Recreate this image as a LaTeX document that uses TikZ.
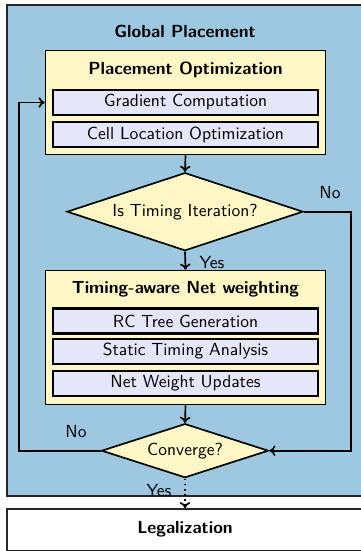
\documentclass[tikz,border=0pt]{standalone}
\usetikzlibrary{shapes.geometric,arrows.meta}
\renewcommand{\familydefault}{\sfdefault}
\definecolor{gpblue}{RGB}{158,200,224}
\definecolor{stgyellow}{RGB}{255,248,198}
\definecolor{tasklav}{RGB}{230,230,250}
\def\PX{0.5714pt}
\begin{document}
\begin{tikzpicture}[x=0.5714pt,y=-0.5714pt,
  outerbox/.style={draw=black!85,fill=gpblue,line width=0.9pt,inner sep=0pt},
  legbox/.style={draw=black!85,fill=white,line width=0.9pt,inner sep=0pt},
  stagebox/.style={draw=black,fill=stgyellow,line width=0.95pt,inner sep=0pt,minimum width=280*\PX},
  taskbox/.style={draw=black,fill=tasklav,line width=1.4pt,inner sep=0pt,minimum width=265*\PX,minimum height=25*\PX},
  decision/.style={diamond,draw=black,fill=stgyellow,line width=0.95pt,aspect=3,inner sep=0pt},
  ttl/.style={font=\bfseries},
  flow/.style={-{To[length=3.5pt,width=6pt]},line width=0.95pt},
  lbl/.style={inner sep=1pt}]
\useasboundingbox (0,0) rectangle (361,551);
% outer global placement box
\node[outerbox,minimum width=356*\PX,minimum height=491*\PX] (gp) at (185,250.5) {};
\node[ttl] (gpt) at (185,31.7) {Global Placement};
% legalization
\node[legbox,minimum width=356*\PX,minimum height=42*\PX] (leg) at (185,530) {};
\node[ttl] (legt) at (185,529.3) {Legalization};
% placement optimization
\node[stagebox,minimum height=104*\PX] (po) at (185.5,102.5) {};
\node[ttl] (pot) at (185.5,70) {Placement Optimization};
\node[taskbox] (gc) at (185.5,102.5) {Gradient Computation};
\node[taskbox] (cl) at (185.5,134.7) {Cell Location Optimization};
% decision 1
\node[decision,minimum width=236*\PX,minimum height=78*\PX] (d1) at (185,211.7) {Is Timing Iteration?};
% timing-aware net weighting
\node[stagebox,minimum height=134*\PX] (tn) at (185.5,337.5) {};
\node[ttl] (tnt) at (185.5,289) {Timing-aware Net weighting};
\node[taskbox] (rc) at (185.5,321) {RC Tree Generation};
\node[taskbox] (sta) at (185.5,351.3) {Static Timing Analysis};
\node[taskbox] (nwu) at (185.5,383.7) {Net Weight Updates};
% decision 2
\node[decision,minimum width=167*\PX,minimum height=54*\PX] (d2) at (185,450.7) {Converge?};
% connectors
\coordinate (rt) at (351,211.7);
\coordinate (lf) at (19.3,450.7);
\draw[flow] (po.south) -- (d1.north);
\draw[flow] (d1.south) -- (tn.north);
\draw[flow] (tn.south) -- (d2.north);
\draw[flow] (d1.east) -- (rt) |- (d2.east);
\draw[flow] (d2.west) -- (lf) |- (po.west);
\draw[flow,dotted] (d2.south) -- (leg.north);
% labels
\node[lbl] (no1) at (330,193) {No};
\node[lbl] (yes1) at (212,263) {Yes};
\node[lbl] (no2) at (76,432) {No};
\node[lbl] (yes2) at (159,490.5) {Yes};
\end{tikzpicture}
\end{document}
